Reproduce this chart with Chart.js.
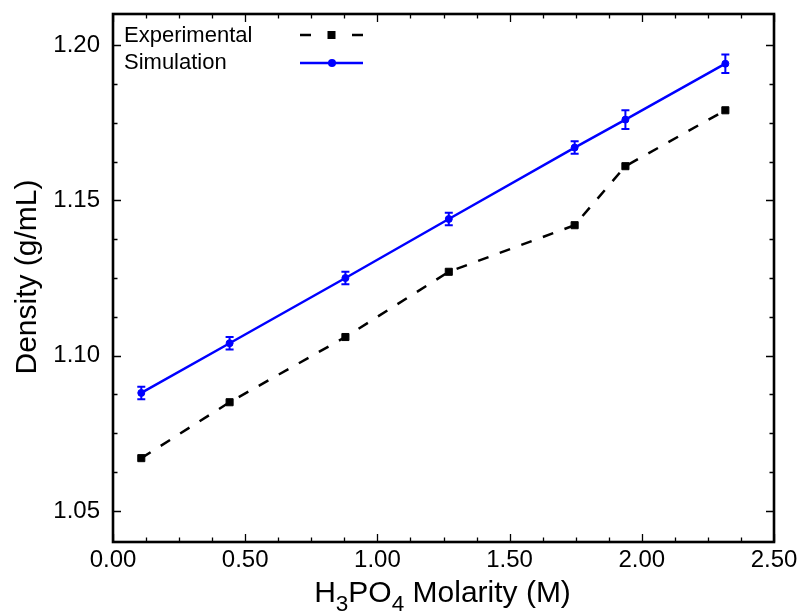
<!DOCTYPE html>
<html>
<head>
<meta charset="utf-8">
<script src="https://cdn.jsdelivr.net/npm/chart.js@4.4.0/dist/chart.umd.min.js"></script>
<style>
body { margin: 0; background: #fff; }
#wrap { position: relative; width: 802px; height: 612px; font-family: "Liberation Sans", Arial, sans-serif; color: #000; }
#chart { position: absolute; left: 0; top: 0; }
#ytitle { position: absolute; left: -124.5px; top: 261.5px; width: 300px; height: 30px; line-height: 30px;
          font-size: 30px; text-align: center; transform: rotate(-90deg); white-space: nowrap; }
#xtitle { position: absolute; left: 242.5px; top: 576.5px; width: 400px; height: 30px; line-height: 30px;
          font-size: 30px; text-align: center; white-space: nowrap; }
#xtitle sub { font-size: 0.75em; vertical-align: -0.4em; line-height: 0; }
</style>
</head>
<body>
<div id="wrap">
  <canvas id="chart" width="802" height="612"></canvas>
  <div id="ytitle">Density (g/mL)</div>
  <div id="xtitle">H<sub>3</sub>PO<sub>4</sub> Molarity (M)</div>
</div>
<script>
// data
const molarity = [0.107, 0.441, 0.879, 1.270, 1.746, 1.938, 2.316];
const expDensity = [1.067, 1.085, 1.106, 1.127, 1.142, 1.161, 1.179];
const simDensity = [1.088, 1.104, 1.125, 1.144, 1.167, 1.176, 1.194];
const simError = [0.002, 0.002, 0.002, 0.002, 0.002, 0.003, 0.003];
const seriesNames = ['Experimental', 'Simulation'];
const xTicks = [0, 0.5, 1.0, 1.5, 2.0, 2.5];
const yTicks = [1.05, 1.10, 1.15, 1.20];

const FONT = '"Liberation Sans", Arial, sans-serif';
const BLUE = '#0000ff';

function toPoints(xs, ys) {
    let pts = [];
    for (let i = 0; i < xs.length; i++) {
        pts.push({x: xs[i], y: ys[i]});
    }
    return pts;
}

// error bars on the simulation series
const errorBars = {
    id: 'errorBars',
    afterDatasetsDraw(chart) {
        const ctx = chart.ctx;
        const x = chart.scales.x, y = chart.scales.y;
        ctx.save();
        ctx.strokeStyle = BLUE;
        ctx.lineWidth = 2;
        for (let i = 0; i < molarity.length; i++) {
            let px = x.getPixelForValue(molarity[i]);
            let lo = y.getPixelForValue(simDensity[i] - simError[i]);
            let hi = y.getPixelForValue(simDensity[i] + simError[i]);
            ctx.beginPath();
            ctx.moveTo(px, lo); ctx.lineTo(px, hi);
            ctx.moveTo(px - 4, lo); ctx.lineTo(px + 4, lo);
            ctx.moveTo(px - 4, hi); ctx.lineTo(px + 4, hi);
            ctx.stroke();
        }
        ctx.restore();
    }
};

// box frame with inward ticks on every side
const frame = {
    id: 'frame',
    afterDraw(chart) {
        const ctx = chart.ctx;
        const a = chart.chartArea;
        const x = chart.scales.x, y = chart.scales.y;
        ctx.save();
        ctx.strokeStyle = '#000';
        ctx.lineWidth = 1.3;
        ctx.beginPath();
        for (let v = x.min; v <= x.max + 1e-9; v += 0.125) {
            let px = Math.round(x.getPixelForValue(v)) + 0.5;
            let major = Math.abs(v / 0.5 - Math.round(v / 0.5)) < 1e-6;
            let len = major ? 8 : 4.5;
            ctx.moveTo(px, a.bottom); ctx.lineTo(px, a.bottom - len);
            ctx.moveTo(px, a.top); ctx.lineTo(px, a.top + len);
        }
        for (let v = 1.0375; v <= y.max + 1e-9; v += 0.0125) {
            if (v < y.min) continue;
            let py = Math.round(y.getPixelForValue(v)) + 0.5;
            let major = Math.abs(v / 0.05 - Math.round(v / 0.05)) < 1e-6;
            let len = major ? 8 : 4.5;
            ctx.moveTo(a.left, py); ctx.lineTo(a.left + len, py);
            ctx.moveTo(a.right, py); ctx.lineTo(a.right - len, py);
        }
        ctx.stroke();
        ctx.lineWidth = 2.6;
        ctx.strokeRect(a.left, a.top, a.right - a.left, a.bottom - a.top);
        ctx.restore();
    }
};

// legend in the upper left corner of the plot
const boxLegend = {
    id: 'boxLegend',
    afterDraw(chart) {
        const ctx = chart.ctx;
        ctx.save();
        ctx.font = '22px ' + FONT;
        ctx.fillStyle = '#000';
        ctx.textBaseline = 'middle';
        ctx.textAlign = 'left';
        ctx.fillText(seriesNames[0], 124, 36);
        ctx.fillText(seriesNames[1], 124, 63);

        ctx.strokeStyle = '#000';
        ctx.lineWidth = 2.5;
        ctx.beginPath();
        ctx.moveTo(300, 35); ctx.lineTo(311, 35);
        ctx.moveTo(352, 35); ctx.lineTo(363, 35);
        ctx.stroke();
        ctx.fillRect(327.5, 31, 8, 8);

        ctx.strokeStyle = BLUE;
        ctx.fillStyle = BLUE;
        ctx.beginPath();
        ctx.moveTo(300, 63); ctx.lineTo(363, 63);
        ctx.stroke();
        ctx.beginPath();
        ctx.arc(332, 63, 4, 0, Math.PI * 2);
        ctx.fill();
        ctx.restore();
    }
};

new Chart(document.getElementById('chart'), {
    type: 'scatter',
    data: {
        datasets: [
            {
                label: seriesNames[0],
                data: toPoints(molarity, expDensity),
                showLine: true,
                borderColor: '#000',
                backgroundColor: '#000',
                borderWidth: 2.5,
                borderDash: [11, 12],
                pointStyle: 'rect',
                pointRadius: 5,
                pointBorderWidth: 1,
                pointBorderColor: '#000',
                pointBackgroundColor: '#000',
                tension: 0
            },
            {
                label: seriesNames[1],
                data: toPoints(molarity, simDensity),
                showLine: true,
                borderColor: BLUE,
                backgroundColor: BLUE,
                borderWidth: 2.5,
                pointStyle: 'circle',
                pointRadius: 3.5,
                pointBorderWidth: 1,
                pointBorderColor: BLUE,
                pointBackgroundColor: BLUE,
                tension: 0
            }
        ]
    },
    options: {
        responsive: false,
        animation: false,
        events: [],
        layout: { padding: { top: 14, right: 28, left: 0, bottom: 0 } },
        plugins: {
            legend: { display: false },
            tooltip: { enabled: false }
        },
        scales: {
            x: {
                type: 'linear',
                min: 0,
                max: 2.5,
                afterBuildTicks: function (scale) {
                    scale.ticks = xTicks.map(v => ({value: v}));
                },
                afterFit: function (scale) {
                    scale.height = 70;
                    scale.paddingLeft = 0;
                    scale.paddingRight = 0;
                },
                grid: { display: false, drawTicks: false },
                border: { display: false },
                ticks: {
                    autoSkip: false,
                    maxRotation: 0,
                    padding: 4,
                    color: '#000',
                    font: { family: FONT, size: 24 },
                    callback: v => Number(v).toFixed(2)
                }
            },
            y: {
                type: 'linear',
                min: 1.04,
                max: 1.21,
                afterBuildTicks: function (scale) {
                    scale.ticks = yTicks.map(v => ({value: v}));
                },
                afterFit: function (scale) {
                    scale.width = 113;
                    scale.paddingTop = 0;
                    scale.paddingBottom = 0;
                },
                grid: { display: false, drawTicks: false },
                border: { display: false },
                ticks: {
                    autoSkip: false,
                    padding: 13,
                    color: '#000',
                    font: { family: FONT, size: 24 },
                    callback: v => Number(v).toFixed(2)
                }
            }
        }
    },
    plugins: [errorBars, frame, boxLegend]
});
</script>
</body>
</html>
